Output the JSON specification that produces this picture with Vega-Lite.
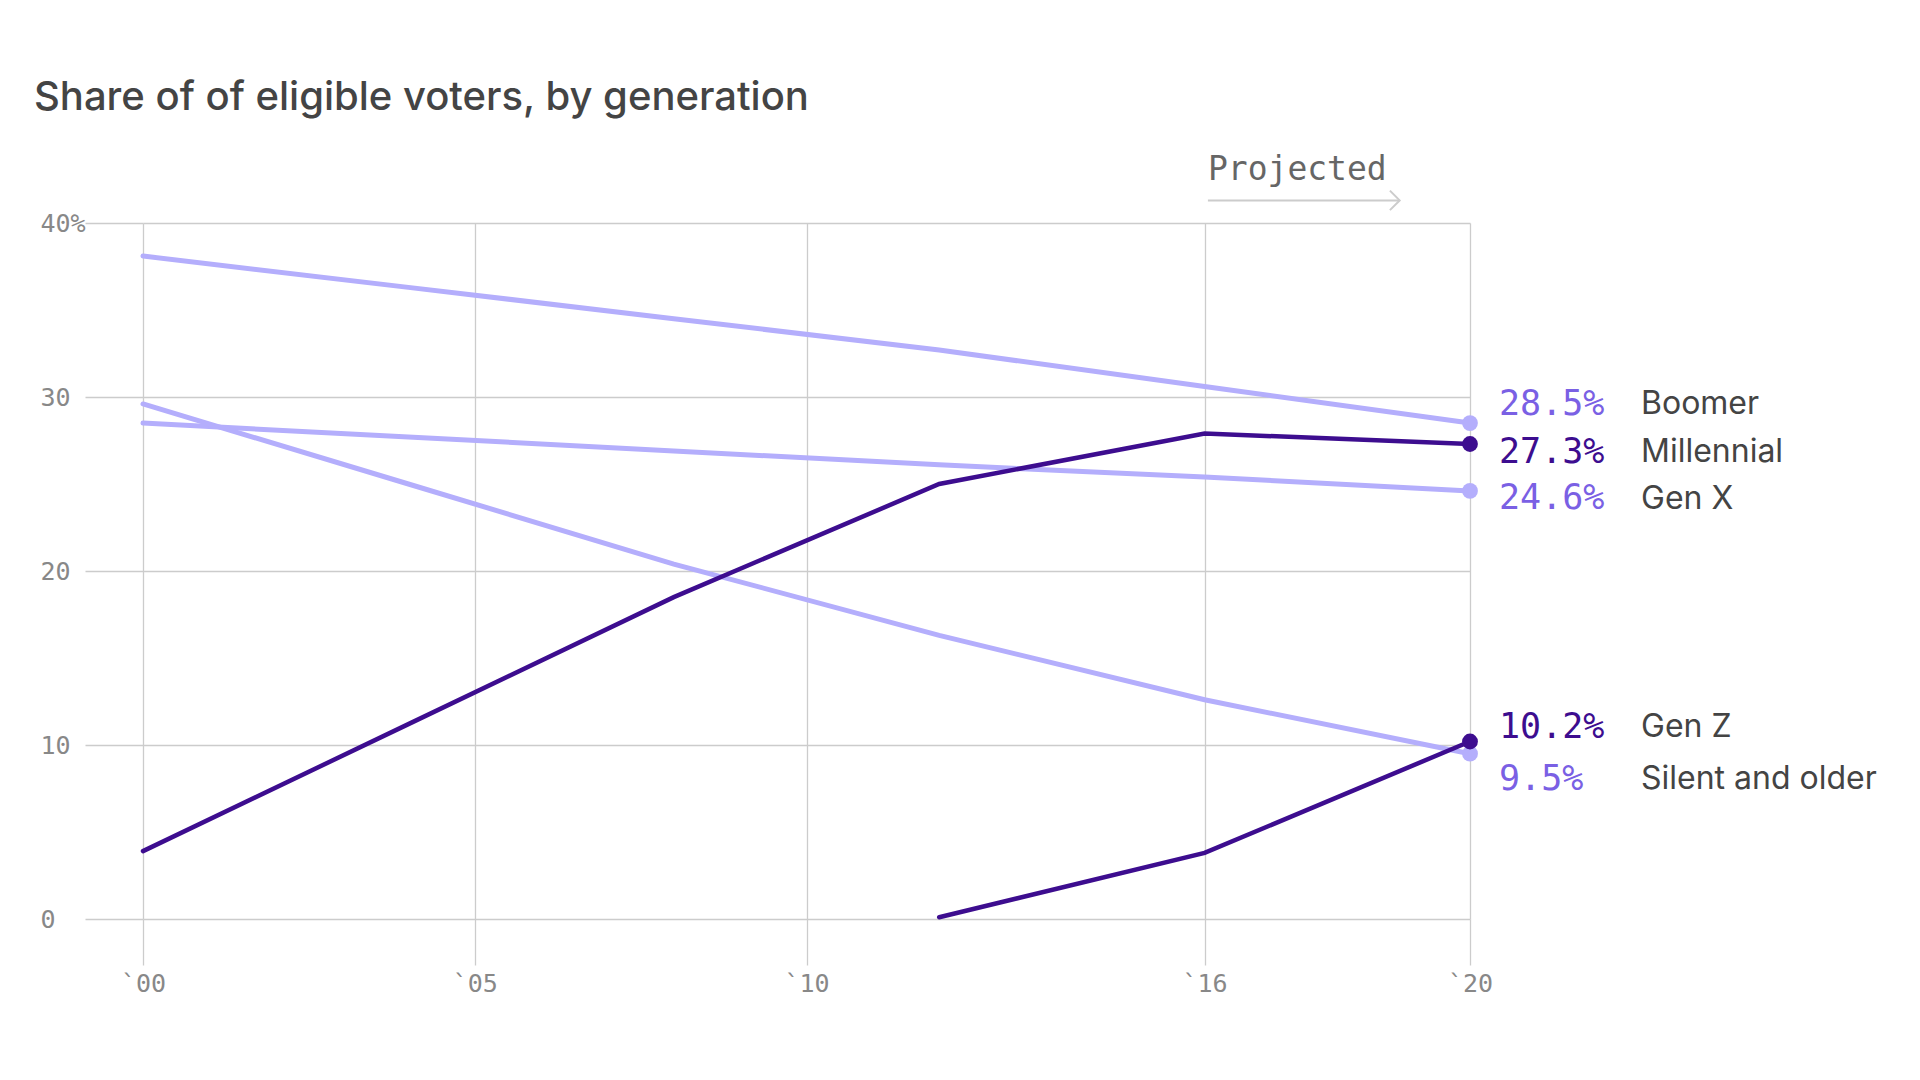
{
  "$schema": "https://vega.github.io/schema/vega-lite/v6.json",
  "width": 1327,
  "height": 696,
  "autosize": {"type": "none"},
  "padding": {"left": 143, "top": 223, "right": 450, "bottom": 161},
  "background": "#ffffff",
  "title": {
    "text": "Share of of eligible voters, by generation",
    "anchor": "start",
    "frame": "group",
    "font": "Inter",
    "fontSize": 40,
    "fontWeight": 500,
    "color": "#444444",
    "baseline": "alphabetic",
    "dx": -109,
    "offset": 4
  },
  "config": {
    "view": {"stroke": null},
    "axis": {
      "gridColor": "#cccccc",
      "gridWidth": 1.3,
      "tickColor": "#cccccc",
      "tickWidth": 1.3,
      "domain": false,
      "labelColor": "#888888",
      "labelFont": "DejaVu Sans Mono",
      "labelFontSize": 25,
      "labelFlush": false,
      "title": null
    }
  },
  "datasets": {
    "shares": [
      {"gen": "Boomer", "year": 2000, "share": 0.381},
      {"gen": "Boomer", "year": 2004, "share": 0.363},
      {"gen": "Boomer", "year": 2008, "share": 0.345},
      {"gen": "Boomer", "year": 2012, "share": 0.327},
      {"gen": "Boomer", "year": 2016, "share": 0.306},
      {"gen": "Boomer", "year": 2020, "share": 0.285},
      {"gen": "Gen X", "year": 2000, "share": 0.285},
      {"gen": "Gen X", "year": 2004, "share": 0.277},
      {"gen": "Gen X", "year": 2008, "share": 0.269},
      {"gen": "Gen X", "year": 2012, "share": 0.261},
      {"gen": "Gen X", "year": 2016, "share": 0.254},
      {"gen": "Gen X", "year": 2020, "share": 0.246},
      {"gen": "Silent and older", "year": 2000, "share": 0.296},
      {"gen": "Silent and older", "year": 2004, "share": 0.250},
      {"gen": "Silent and older", "year": 2008, "share": 0.204},
      {"gen": "Silent and older", "year": 2012, "share": 0.163},
      {"gen": "Silent and older", "year": 2016, "share": 0.126},
      {"gen": "Silent and older", "year": 2020, "share": 0.095},
      {"gen": "Millennial", "year": 2000, "share": 0.039},
      {"gen": "Millennial", "year": 2004, "share": 0.112},
      {"gen": "Millennial", "year": 2008, "share": 0.185},
      {"gen": "Millennial", "year": 2012, "share": 0.250},
      {"gen": "Millennial", "year": 2016, "share": 0.279},
      {"gen": "Millennial", "year": 2020, "share": 0.273},
      {"gen": "Gen Z", "year": 2012, "share": 0.001},
      {"gen": "Gen Z", "year": 2016, "share": 0.038},
      {"gen": "Gen Z", "year": 2020, "share": 0.102}
    ],
    "note": [{"label": "Projected"}]
  },
  "layer": [
    {
      "data": {"name": "shares"},
      "transform": [{"filter": "datum.gen == 'Boomer' || datum.gen == 'Gen X' || datum.gen == 'Silent and older'"}],
      "mark": {"type": "line", "strokeWidth": 5, "strokeCap": "round", "color": "#b4aefc"},
      "encoding": {
        "x": {
          "field": "year",
          "type": "quantitative",
          "scale": {"domain": [2000, 2020], "nice": false, "zero": false},
          "axis": {
            "values": [2000, 2005, 2010, 2016, 2020],
            "format": "d",
            "labelExpr": "'`' + substring(datum.label, 2, 4)",
            "tickSize": 46,
            "labelPadding": 6,
            "labelAlign": "center",
            "labelBaseline": "top",
            "grid": true
          }
        },
        "y": {
          "field": "share",
          "type": "quantitative",
          "scale": {"domain": [0, 0.4], "nice": false},
          "axis": {
            "values": [0, 0.1, 0.2, 0.3, 0.4],
            "format": ".0%",
            "labelExpr": "datum.value > 0.39 ? datum.label : replace(datum.label, '%', '')",
            "tickSize": 58,
            "labelPadding": 45,
            "labelAlign": "left",
            "labelBaseline": "middle",
            "grid": true
          }
        },
        "detail": {"field": "gen", "type": "nominal"}
      }
    },
    {
      "data": {"name": "shares"},
      "transform": [{"filter": "datum.gen == 'Millennial' || datum.gen == 'Gen Z'"}],
      "mark": {"type": "line", "strokeWidth": 4.5, "strokeCap": "round", "color": "#3d0d8f"},
      "encoding": {
        "x": {"field": "year", "type": "quantitative"},
        "y": {"field": "share", "type": "quantitative"},
        "detail": {"field": "gen", "type": "nominal"}
      }
    },
    {
      "data": {"name": "shares"},
      "transform": [{"filter": "datum.year == 2020 && (datum.gen == 'Boomer' || datum.gen == 'Gen X' || datum.gen == 'Silent and older')"}],
      "mark": {"type": "circle", "size": 250, "opacity": 1, "color": "#b4aefc"},
      "encoding": {
        "x": {"field": "year", "type": "quantitative"},
        "y": {"field": "share", "type": "quantitative"}
      }
    },
    {
      "data": {"name": "shares"},
      "transform": [{"filter": "datum.year == 2020 && (datum.gen == 'Millennial' || datum.gen == 'Gen Z')"}],
      "mark": {"type": "circle", "size": 250, "opacity": 1, "color": "#3d0d8f"},
      "encoding": {
        "x": {"field": "year", "type": "quantitative"},
        "y": {"field": "share", "type": "quantitative"}
      }
    },
    {
      "data": {"name": "shares"},
      "transform": [{"filter": "datum.year == 2020 && datum.gen == 'Boomer'"}],
      "mark": {"type": "text", "align": "left", "baseline": "middle", "dx": 29, "dy": -19, "font": "DejaVu Sans Mono", "fontSize": 35, "color": "#7a60e4"},
      "encoding": {
        "x": {"field": "year", "type": "quantitative"},
        "y": {"field": "share", "type": "quantitative"},
        "text": {"field": "share", "type": "quantitative", "format": ".1%"}
      }
    },
    {
      "data": {"name": "shares"},
      "transform": [{"filter": "datum.year == 2020 && datum.gen == 'Millennial'"}],
      "mark": {"type": "text", "align": "left", "baseline": "middle", "dx": 29, "dy": 8, "font": "DejaVu Sans Mono", "fontSize": 35, "color": "#3d0d8f"},
      "encoding": {
        "x": {"field": "year", "type": "quantitative"},
        "y": {"field": "share", "type": "quantitative"},
        "text": {"field": "share", "type": "quantitative", "format": ".1%"}
      }
    },
    {
      "data": {"name": "shares"},
      "transform": [{"filter": "datum.year == 2020 && datum.gen == 'Gen X'"}],
      "mark": {"type": "text", "align": "left", "baseline": "middle", "dx": 29, "dy": 7, "font": "DejaVu Sans Mono", "fontSize": 35, "color": "#7a60e4"},
      "encoding": {
        "x": {"field": "year", "type": "quantitative"},
        "y": {"field": "share", "type": "quantitative"},
        "text": {"field": "share", "type": "quantitative", "format": ".1%"}
      }
    },
    {
      "data": {"name": "shares"},
      "transform": [{"filter": "datum.year == 2020 && datum.gen == 'Gen Z'"}],
      "mark": {"type": "text", "align": "left", "baseline": "middle", "dx": 29, "dy": -15, "font": "DejaVu Sans Mono", "fontSize": 35, "color": "#3d0d8f"},
      "encoding": {
        "x": {"field": "year", "type": "quantitative"},
        "y": {"field": "share", "type": "quantitative"},
        "text": {"field": "share", "type": "quantitative", "format": ".1%"}
      }
    },
    {
      "data": {"name": "shares"},
      "transform": [{"filter": "datum.year == 2020 && datum.gen == 'Silent and older'"}],
      "mark": {"type": "text", "align": "left", "baseline": "middle", "dx": 29, "dy": 25, "font": "DejaVu Sans Mono", "fontSize": 35, "color": "#7a60e4"},
      "encoding": {
        "x": {"field": "year", "type": "quantitative"},
        "y": {"field": "share", "type": "quantitative"},
        "text": {"field": "share", "type": "quantitative", "format": ".1%"}
      }
    },
    {
      "data": {"name": "shares"},
      "transform": [{"filter": "datum.year == 2020 && datum.gen == 'Boomer'"}],
      "mark": {"type": "text", "align": "left", "baseline": "middle", "dx": 171, "dy": -19, "font": "Inter", "fontSize": 32, "color": "#444444"},
      "encoding": {
        "x": {"field": "year", "type": "quantitative"},
        "y": {"field": "share", "type": "quantitative"},
        "text": {"field": "gen"}
      }
    },
    {
      "data": {"name": "shares"},
      "transform": [{"filter": "datum.year == 2020 && (datum.gen == 'Millennial' || datum.gen == 'Gen X')"}],
      "mark": {"type": "text", "align": "left", "baseline": "middle", "dx": 171, "dy": 8, "font": "Inter", "fontSize": 32, "color": "#444444"},
      "encoding": {
        "x": {"field": "year", "type": "quantitative"},
        "y": {"field": "share", "type": "quantitative"},
        "text": {"field": "gen"}
      }
    },
    {
      "data": {"name": "shares"},
      "transform": [{"filter": "datum.year == 2020 && datum.gen == 'Gen Z'"}],
      "mark": {"type": "text", "align": "left", "baseline": "middle", "dx": 171, "dy": -15, "font": "Inter", "fontSize": 32, "color": "#444444"},
      "encoding": {
        "x": {"field": "year", "type": "quantitative"},
        "y": {"field": "share", "type": "quantitative"},
        "text": {"field": "gen"}
      }
    },
    {
      "data": {"name": "shares"},
      "transform": [{"filter": "datum.year == 2020 && datum.gen == 'Silent and older'"}],
      "mark": {"type": "text", "align": "left", "baseline": "middle", "dx": 171, "dy": 25, "font": "Inter", "fontSize": 32, "color": "#444444"},
      "encoding": {
        "x": {"field": "year", "type": "quantitative"},
        "y": {"field": "share", "type": "quantitative"},
        "text": {"field": "gen"}
      }
    },
    {
      "data": {"name": "note"},
      "mark": {"type": "text", "align": "left", "baseline": "alphabetic", "font": "DejaVu Sans Mono", "fontSize": 33, "color": "#666666"},
      "encoding": {
        "x": {"datum": 2016.05, "type": "quantitative"},
        "y": {"datum": 0.425, "type": "quantitative"},
        "text": {"field": "label"}
      }
    },
    {
      "data": {"name": "note"},
      "mark": {"type": "rule", "strokeWidth": 2, "color": "#cccccc"},
      "encoding": {
        "x": {"datum": 2016.05, "type": "quantitative"},
        "x2": {"datum": 2018.94},
        "y": {"datum": 0.413, "type": "quantitative"}
      }
    },
    {
      "data": {"name": "note"},
      "mark": {"type": "point", "shape": "M-1,-1L0,0L-1,1", "filled": false, "size": 380, "strokeWidth": 2, "opacity": 1, "color": "#cccccc"},
      "encoding": {
        "x": {"datum": 2018.94, "type": "quantitative"},
        "y": {"datum": 0.413, "type": "quantitative"}
      }
    }
  ]
}
